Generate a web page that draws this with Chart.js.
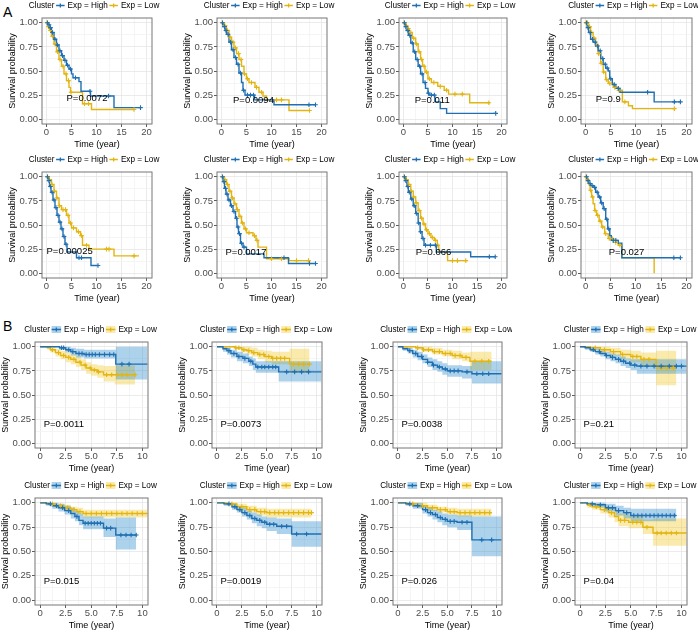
<!DOCTYPE html>
<html>
<head>
<meta charset="utf-8">
<script src="https://cdn.jsdelivr.net/npm/chart.js@4.4.1/dist/chart.umd.min.js"></script>
<style>
  html, body { margin: 0; padding: 0; background: #fff; }
  #fig { position: relative; width: 698px; height: 633px; overflow: hidden; font-family: "Liberation Sans", Arial, sans-serif; }
  #fig canvas { position: absolute; }
  .tag { position: absolute; left: 3px; font-size: 14px; line-height: 14px; color: #000; }
</style>
</head>
<body>
<div id="fig">
  <div class="tag" style="top:5px">A</div>
  <div class="tag" style="top:319px">B</div>
</div>
<script>
// ---- data ----
const groups = ["Exp = High", "Exp = Low"];
const yTicks = [0, 0.25, 0.5, 0.75, 1];
const yTickLabels = ["0.00", "0.25", "0.50", "0.75", "1.00"];
const xTicksA = [0, 5, 10, 15, 20];
const xTickLabelsA = ["0", "5", "10", "15", "20"];
const xTicksB = [0, 2.5, 5, 7.5, 10];
const xTickLabelsB = ["0", "2.5", "5.0", "7.5", "10"];
const pValuesA = ["P=0.0072", "P=0.0094", "P=0.011", "P=0.9", "P=0.00025", "P=0.0017", "P=0.066", "P=0.027"];
const pValuesB = ["P=0.0011", "P=0.0073", "P=0.0038", "P=0.21", "P=0.015", "P=0.0019", "P=0.026", "P=0.04"];

// panel A: [time, survival]; censor = times
const a1High = [[0,1],[0.3,0.98],[0.6,0.95],[1,0.9],[1.5,0.83],[2,0.77],[2.5,0.71],[3,0.66],[3.5,0.61],[4,0.56],[4.5,0.52],[5,0.47],[5.3,0.43],[6.5,0.39],[6.9,0.29],[8.8,0.24],[13.5,0.12],[18.8,0.12]];
const a1HighCens = [0.2,0.5,0.8,1.2,1.7,2.2,2.7,3.2,3.7,4.2,4.8,5.8,8.7,12.4,18.8];
const a1Low = [[0,1],[0.3,0.96],[0.6,0.92],[1,0.86],[1.5,0.78],[2,0.7],[2.5,0.62],[3,0.55],[3.5,0.47],[4,0.4],[4.5,0.33],[4.8,0.28],[7.2,0.16],[9,0.1],[17.5,0.1]];
const a1LowCens = [0.1,0.4,0.8,1.2,1.7,2.2,2.7,3.3,3.9,4.4,4.9,7.6,8.4,17.5];

const a2High = [[0,1],[0.3,0.96],[0.7,0.92],[1,0.88],[1.5,0.8],[2,0.72],[2.5,0.64],[3,0.57],[3.5,0.48],[4,0.38],[4.3,0.3],[4.7,0.25],[6.6,0.2],[10.5,0.15],[18.8,0.15]];
const a2HighCens = [0.2,0.6,0.9,1.3,1.8,2.3,2.8,3.3,3.8,4.4,5.2,5.8,6.4,17.5,18.8];
const a2Low = [[0,1],[0.5,0.97],[1,0.92],[1.5,0.85],[2,0.8],[2.5,0.74],[3,0.68],[3.5,0.62],[4,0.55],[4.5,0.47],[5,0.42],[5.5,0.38],[6.7,0.33],[7.5,0.28],[8.3,0.24],[9,0.2],[13.5,0.09],[17.6,0.09]];
const a2LowCens = [0.2,0.7,1.2,1.7,2.3,2.8,3.4,3.9,4.6,5.2,6,7,8,11,12,17.6];

const a3High = [[0,1],[0.3,0.96],[0.6,0.92],[1,0.87],[1.5,0.79],[2,0.7],[2.5,0.62],[3,0.55],[3.5,0.47],[4,0.38],[4.5,0.32],[5,0.27],[5.2,0.25],[6.4,0.18],[7.5,0.11],[8.8,0.06],[18.8,0.06]];
const a3HighCens = [0.2,0.5,0.9,1.3,1.8,2.3,2.8,3.3,3.8,4.4,5.1,5.7,6.3,18.8];
const a3Low = [[0,1],[0.4,0.97],[0.8,0.94],[1.2,0.9],[1.8,0.84],[2.5,0.78],[3,0.7],[3.5,0.62],[3.9,0.55],[4.4,0.49],[5,0.42],[5.7,0.38],[7,0.34],[8.3,0.3],[9.2,0.26],[13.5,0.17],[17.6,0.17]];
const a3LowCens = [0.2,0.6,1,1.5,2.1,2.7,3.2,3.7,4.2,4.7,5.3,6.2,7.5,8.8,10.5,12,17.4];

const a4High = [[0,1],[0.3,0.95],[0.6,0.9],[1,0.83],[1.5,0.8],[2,0.76],[2.5,0.71],[3,0.63],[3.5,0.57],[4,0.53],[4.5,0.5],[4.8,0.42],[5.3,0.36],[6,0.32],[6.8,0.28],[13.6,0.18],[18.8,0.18]];
const a4HighCens = [0.2,0.5,0.9,1.4,1.9,2.4,2.9,3.4,3.9,4.3,5,5.7,6.5,12.3,17.6,18.8];
const a4Low = [[0,1],[0.5,0.96],[1,0.9],[1.5,0.84],[2,0.77],[2.5,0.68],[3,0.58],[3.5,0.49],[4,0.41],[4.5,0.37],[5.5,0.33],[6.5,0.3],[7.3,0.18],[8.5,0.14],[9.3,0.11],[17.6,0.11]];
const a4LowCens = [0.1,0.4,0.8,1.2,1.7,2.2,2.6,3.1,3.6,4.2,4.8,5.8,6.6,7.8,17.6];

const a5High = [[0,1],[0.3,0.96],[0.6,0.9],[0.9,0.84],[1.3,0.76],[1.7,0.68],[2.1,0.6],[2.5,0.53],[2.9,0.46],[3.3,0.38],[3.7,0.3],[4.1,0.22],[6,0.16],[8.9,0.08],[10.3,0.08]];
const a5HighCens = [0.2,0.5,0.8,1.1,1.5,1.9,2.3,2.7,3.1,3.5,3.9,6.5,7,10.3];
const a5Low = [[0,1],[0.5,0.97],[1,0.92],[1.5,0.85],[2,0.78],[2.5,0.7],[3,0.66],[4,0.6],[4.5,0.52],[5,0.47],[6,0.43],[6.8,0.39],[7.2,0.29],[8.5,0.25],[13.5,0.18],[18.5,0.18]];
const a5LowCens = [0.2,0.6,1.1,1.6,2.1,2.6,3.3,3.8,4.3,4.8,5.4,6.4,7,8,12,12.5,17.5];

const a6High = [[0,1],[0.3,0.95],[0.6,0.88],[0.9,0.82],[1.3,0.76],[1.8,0.7],[2.3,0.64],[2.8,0.57],[3.1,0.48],[3.4,0.41],[3.8,0.31],[4.3,0.27],[5,0.2],[8.5,0.16],[13.4,0.1],[18.8,0.1]];
const a6HighCens = [0.2,0.5,0.8,1.1,1.5,2,2.5,3,3.3,3.6,4,4.5,12.5,17.6,18.8];
const a6Low = [[0,1],[0.5,0.97],[1,0.92],[1.5,0.85],[2,0.78],[2.5,0.72],[3,0.66],[3.5,0.59],[4,0.52],[4.5,0.46],[5,0.42],[6.3,0.39],[6.9,0.34],[7.3,0.27],[9,0.15],[13.5,0.13],[17.4,0.13]];
const a6LowCens = [0.2,0.7,1.2,1.7,2.2,2.7,3.2,3.7,4.2,4.8,5.5,6.6,7.1,10,12,15,17.4];

const a7High = [[0,1],[0.3,0.96],[0.7,0.9],[1,0.84],[1.5,0.77],[2,0.7],[2.5,0.62],[3,0.52],[3.4,0.43],[3.8,0.36],[4.2,0.29],[6.7,0.22],[13.7,0.17],[18.7,0.17]];
const a7HighCens = [0.2,0.5,0.9,1.2,1.7,2.2,2.7,3.1,3.5,4,4.5,5.5,6.5,17.5,18.7];
const a7Low = [[0,1],[0.5,0.97],[1,0.92],[1.5,0.85],[2,0.79],[2.5,0.73],[3,0.65],[3.5,0.57],[4,0.51],[4.5,0.45],[5,0.41],[5.6,0.37],[6.3,0.34],[6.9,0.29],[7.2,0.22],[9,0.13],[12.7,0.13]];
const a7LowCens = [0.2,0.6,1.1,1.6,2.1,2.6,3.2,3.7,4.2,4.7,5.3,5.9,6.5,7,10,11,12.7];

const a8High = [[0,1],[0.3,0.96],[0.6,0.93],[1,0.91],[1.5,0.89],[2,0.84],[2.5,0.79],[3,0.73],[3.5,0.67],[4,0.56],[4.4,0.46],[4.8,0.39],[5.1,0.34],[6.5,0.31],[7.2,0.16],[18.8,0.16]];
const a8HighCens = [0.2,0.5,0.9,1.3,1.8,2.3,2.8,3.2,3.7,4.2,4.6,5.5,6,17.5,18.8];
const a8Low = [[0,1],[0.3,0.97],[0.6,0.93],[0.9,0.86],[1.2,0.79],[1.5,0.72],[1.8,0.65],[2.2,0.6],[2.7,0.54],[3.2,0.48],[3.8,0.41],[4.5,0.36],[5.5,0.32],[6.5,0.29],[7.2,0.16],[13.6,0]];
const a8LowCens = [0.1,0.4,0.7,1,1.4,1.9,2.4,2.9,3.4,4,4.7,5.3,6,6.8];

// panel B: [time, survival, lower, upper]
const b1High = [[0,1,1,1],[1.9,0.99,0.97,1],[2.5,0.97,0.94,1],[3,0.95,0.91,0.99],[3.5,0.93,0.89,0.98],[4.3,0.92,0.88,0.97],[7.4,0.82,0.66,1],[10.5,0.82,0.66,1]];
const b1HighCens = [2.1,2.3,2.8,3.2,3.8,4.1,4.5,4.8,5.1,5.4,5.8,6.3,6.8,7.2,8,8.7];
const b1Low = [[0,1,1,1],[0.7,0.99,0.97,1],[1,0.97,0.94,1],[1.5,0.94,0.9,0.98],[2,0.91,0.87,0.96],[2.5,0.89,0.84,0.94],[3,0.87,0.82,0.92],[3.5,0.84,0.79,0.9],[4,0.81,0.76,0.87],[4.5,0.78,0.72,0.84],[5,0.76,0.7,0.82],[5.6,0.74,0.68,0.81],[6.2,0.71,0.64,0.8],[7.3,0.71,0.61,0.81],[9.3,0.71,0.61,0.81]];
const b1LowCens = [1.2,1.8,2.3,2.8,3.3,3.9,4.4,4.9,5.3,5.7,6.5,7,7.5,8,8.5,9.3];

const b2High = [[0,1,1,1],[0.6,0.98,0.95,1],[1,0.96,0.92,0.99],[1.4,0.93,0.89,0.97],[2,0.9,0.85,0.95],[2.6,0.88,0.83,0.93],[3.2,0.85,0.8,0.9],[3.6,0.82,0.76,0.88],[3.9,0.79,0.73,0.85],[6.2,0.74,0.64,0.85],[10.5,0.74,0.64,0.85]];
const b2HighCens = [1.2,1.7,2.2,2.8,3.4,4.1,4.5,4.8,5.2,5.6,5.9,7,7.8,8.5,9.2];
const b2Low = [[0,1,1,1],[1.8,0.99,0.97,1],[2.5,0.97,0.94,1],[3,0.96,0.92,1],[3.5,0.94,0.9,0.99],[4.1,0.92,0.87,0.97],[4.8,0.9,0.84,0.96],[5.5,0.88,0.82,0.95],[7.3,0.82,0.73,0.98],[9.3,0.82,0.73,0.98]];
const b2LowCens = [1.9,2.2,2.7,3.2,3.7,4.3,4.7,5.2,5.6,6,6.4,6.8,7.7,8.2,8.7,9.3];

const b3High = [[0,1,1,1],[0.5,0.98,0.96,1],[1,0.96,0.93,0.99],[1.5,0.93,0.89,0.97],[2,0.9,0.86,0.95],[2.5,0.87,0.83,0.92],[3,0.84,0.79,0.89],[3.5,0.81,0.76,0.87],[4,0.79,0.74,0.85],[4.5,0.77,0.71,0.83],[5,0.75,0.69,0.81],[6.5,0.74,0.67,0.8],[7.5,0.72,0.62,0.85],[10.5,0.72,0.62,0.85]];
const b3HighCens = [1.2,1.8,2.4,3,3.6,4.2,4.8,5.3,5.7,6.1,7,8,8.6,9.2];
const b3Low = [[0,1,1,1],[1.8,0.99,0.97,1],[2.5,0.97,0.95,1],[3.5,0.95,0.92,0.99],[4.5,0.93,0.9,0.97],[5.5,0.91,0.87,0.96],[6.5,0.89,0.85,0.94],[7.3,0.85,0.76,0.95],[9.5,0.85,0.76,0.95]];
const b3LowCens = [2,2.6,3.1,3.7,4.2,4.8,5.3,5.8,6.3,6.9,7.8,8.5,9.2];

const b4High = [[0,1,1,1],[0.5,0.99,0.97,1],[1,0.97,0.95,1],[1.5,0.95,0.92,0.98],[2,0.93,0.9,0.96],[2.5,0.91,0.87,0.95],[3,0.89,0.85,0.93],[3.5,0.87,0.83,0.92],[4,0.85,0.8,0.9],[4.5,0.83,0.78,0.88],[5,0.81,0.76,0.87],[5.6,0.8,0.72,0.87],[10.5,0.8,0.72,0.87]];
const b4HighCens = [1.3,1.9,2.6,3.2,3.8,4.3,4.9,5.4,6,6.6,7.3,8,8.8,9.5,10];
const b4Low = [[0,1,1,1],[1,0.99,0.97,1],[2,0.97,0.94,1],[3,0.95,0.91,0.99],[4,0.92,0.87,0.97],[5,0.9,0.84,0.96],[6,0.87,0.8,0.94],[7.5,0.78,0.6,0.96],[9.5,0.78,0.6,0.96]];
const b4LowCens = [1.5,2.4,3.3,4.2,5.2,5.6,6.3,6.8,8,8.6,9.2];

const b5High = [[0,1,1,1],[0.6,0.99,0.97,1],[1.2,0.97,0.94,1],[1.8,0.95,0.91,0.99],[2.4,0.92,0.88,0.97],[3,0.89,0.84,0.95],[3.4,0.86,0.81,0.92],[3.8,0.82,0.77,0.89],[4.2,0.79,0.73,0.86],[6.2,0.74,0.65,0.84],[7.4,0.67,0.52,0.85],[9.4,0.67,0.52,0.85]];
const b5HighCens = [1,1.6,2.2,2.8,3.6,4.4,4.7,5,5.3,5.6,5.9,6.5,6.9,7.9,8.4,8.9,9.4];
const b5Low = [[0,1,1,1],[0.8,0.99,0.98,1],[1.5,0.97,0.95,0.99],[2.3,0.95,0.93,0.98],[3,0.93,0.9,0.96],[3.6,0.91,0.88,0.95],[4.2,0.89,0.85,0.93],[10.5,0.89,0.84,0.94]];
const b5LowCens = [1.2,2,2.7,3.3,3.9,4.5,5,5.5,6,6.5,7,7.5,8,8.5,9,9.5,10];

const b6High = [[0,1,1,1],[0.7,0.99,0.97,1],[1.5,0.96,0.93,0.99],[2,0.93,0.9,0.97],[2.5,0.9,0.86,0.95],[3,0.87,0.83,0.92],[3.5,0.84,0.79,0.9],[4,0.82,0.76,0.88],[4.5,0.8,0.74,0.86],[5,0.78,0.71,0.85],[6,0.76,0.68,0.84],[7.5,0.68,0.55,0.81],[10.5,0.68,0.55,0.81]];
const b6HighCens = [1.2,1.8,2.3,2.8,3.3,3.8,4.3,4.8,5.3,5.7,6.5,7,8,9];
const b6Low = [[0,1,1,1],[1,0.99,0.97,1],[2,0.96,0.93,0.99],[3,0.93,0.9,0.97],[4,0.91,0.87,0.95],[5,0.9,0.85,0.94],[9.5,0.9,0.85,0.94]];
const b6LowCens = [1.5,2.5,3.3,3.8,4.4,4.8,5.3,5.8,6.2,6.7,7.2,7.7,8.2,8.7,9.2,9.5];

const b7High = [[0,1,1,1],[0.8,0.99,0.97,1],[1.5,0.97,0.94,1],[2.5,0.93,0.89,0.97],[3,0.9,0.86,0.95],[3.5,0.88,0.83,0.93],[4,0.85,0.8,0.91],[4.5,0.83,0.77,0.89],[5,0.81,0.75,0.88],[6,0.8,0.72,0.87],[7.5,0.62,0.45,0.86],[10.5,0.62,0.45,0.86]];
const b7HighCens = [1.2,2,2.8,3.3,3.8,4.3,4.8,5.3,5.7,6.5,7,8.5,9.5];
const b7Low = [[0,1,1,1],[1,0.99,0.97,1],[2,0.97,0.95,1],[3,0.95,0.92,0.98],[4,0.93,0.9,0.96],[5,0.91,0.88,0.95],[6,0.9,0.86,0.94],[9.5,0.9,0.86,0.94]];
const b7LowCens = [1.5,2.5,3.5,4.3,4.8,5.3,5.7,6.3,6.8,7.3,7.8,8.3,8.8,9.3];

const b8High = [[0,1,1,1],[0.7,0.99,0.97,1],[1.5,0.98,0.95,1],[2.5,0.95,0.91,0.99],[3.5,0.92,0.87,0.97],[4.3,0.9,0.84,0.95],[5,0.87,0.81,0.94],[9.5,0.87,0.81,0.94]];
const b8HighCens = [1.2,2,2.8,3.2,3.8,4.6,5.3,5.7,6.1,6.5,6.9,7.3,7.7,8.1,8.5,8.9,9.3];
const b8Low = [[0,1,1,1],[0.7,0.98,0.95,1],[1.2,0.96,0.93,0.99],[2,0.93,0.89,0.97],[2.8,0.9,0.85,0.95],[3.4,0.86,0.8,0.92],[3.8,0.82,0.76,0.89],[4.8,0.8,0.74,0.87],[6.2,0.75,0.68,0.83],[7.2,0.69,0.56,0.84],[10.5,0.69,0.56,0.84]];
const b8LowCens = [1,1.6,2.4,3.1,4,4.4,5.2,5.6,6,6.6,7.6,8,8.5,9,9.5];

// ---- layout / style ----
const FONT = '"Liberation Sans", Arial, sans-serif';
Chart.defaults.font.family = FONT;
const lineColors = ["#1f6fb2", "#e3b511"];
const bandColors = ["rgba(0,115,194,0.32)", "rgba(239,192,0,0.32)"];
const yMinor = [0.125, 0.375, 0.625, 0.875];
const xMinorA = [2.5, 7.5, 12.5, 17.5];
const xMinorB = [1.25, 3.75, 6.25, 8.75];
const AX_W = 38, TOP_PAD = 20, AX_H = 30, RIGHT_PAD = 10;

const boxLeftA = [42, 217, 399, 581], boxRightA = [152, 327, 507, 692];
const boxLeftB = [35, 212, 393, 575], boxRightB = [148, 322, 502, 687];
const rowTopA = [18, 172], rowBottomA = [124, 278];
const rowTopB = [342, 498], rowBottomB = [448, 605];
const pAtA = [[4, 0.22], [2.3, 0.19], [2.3, 0.19], [2, 0.21], [0, 0.23], [0.8, 0.22], [2.5, 0.22], [4.6, 0.22]];
const pAtB = [0.35, 0.19];

const aSeries = [
  [a1High, a1Low, a1HighCens, a1LowCens], [a2High, a2Low, a2HighCens, a2LowCens],
  [a3High, a3Low, a3HighCens, a3LowCens], [a4High, a4Low, a4HighCens, a4LowCens],
  [a5High, a5Low, a5HighCens, a5LowCens], [a6High, a6Low, a6HighCens, a6LowCens],
  [a7High, a7Low, a7HighCens, a7LowCens], [a8High, a8Low, a8HighCens, a8LowCens]
];
const bSeries = [
  [b1High, b1Low, b1HighCens, b1LowCens], [b2High, b2Low, b2HighCens, b2LowCens],
  [b3High, b3Low, b3HighCens, b3LowCens], [b4High, b4Low, b4HighCens, b4LowCens],
  [b5High, b5Low, b5HighCens, b5LowCens], [b6High, b6Low, b6HighCens, b6LowCens],
  [b7High, b7Low, b7HighCens, b7LowCens], [b8High, b8Low, b8HighCens, b8LowCens]
];

function survAt(rows, t) {
  let s = rows[0][1];
  rows.forEach(r => { if (r[0] <= t) s = r[1]; });
  return s;
}
const col = (rows, k) => rows.map(r => ({ x: r[0], y: r[k] }));

function setTicks(majors, minors) {
  return s => {
    s.ticks = majors.concat(minors).sort((a, b) => a - b).map(v => ({ value: v, sub: minors.includes(v) }));
  };
}
function tickLabel(majors, labels) {
  return v => { const k = majors.indexOf(v); return k >= 0 ? labels[k] : ""; };
}
const gridColor = c => (c.tick && c.tick.sub ? "#f3f3f3" : "#e6e6e6");
const tickColor = c => (c.tick && c.tick.sub ? "rgba(0,0,0,0)" : "#333");

const kmPanel = {
  id: "kmPanel",
  afterDatasetsDraw(chart, args, opts) {
    const { ctx, chartArea: a, scales } = chart;
    ctx.save();
    ctx.strokeStyle = "#777";
    ctx.lineWidth = 1;
    ctx.strokeRect(a.left, a.top, a.right - a.left, a.bottom - a.top);
    ctx.fillStyle = "#000";
    ctx.font = "9.5px " + FONT;
    ctx.textBaseline = "middle";
    ctx.fillText(opts.pText, scales.x.getPixelForValue(opts.pAt[0]), scales.y.getPixelForValue(opts.pAt[1]));
    ctx.restore();
  },
  afterDraw(chart, args, opts) {
    const { ctx, chartArea: a } = chart;
    ctx.save();
    ctx.font = "8.2px " + FONT;
    ctx.textBaseline = "middle";
    const items = ["Cluster"].concat(groups);
    const w = items.map(t => ctx.measureText(t).width);
    const key = opts.band ? 9.5 : 8.5, gapL = 1.5, gapR = 3;
    const total = w[0] + w[1] + w[2] + 2 * (gapL + key + gapR);
    let x = (a.left + a.right) / 2 - opts.shift - total / 2;
    const y = a.top - 12.5;
    ctx.fillStyle = "#000";
    ctx.fillText(items[0], x, y);
    x += w[0];
    [0, 1].forEach(i => {
      x += gapL;
      if (opts.band) {
        ctx.fillStyle = bandColors[i];
        ctx.fillRect(x, y - 3.5, key, 7);
      }
      ctx.strokeStyle = lineColors[i];
      ctx.lineWidth = 1.3;
      ctx.beginPath();
      ctx.moveTo(x, y); ctx.lineTo(x + key, y);
      ctx.moveTo(x + key / 2, y - 2); ctx.lineTo(x + key / 2, y + 2);
      ctx.stroke();
      x += key + gapR;
      ctx.fillStyle = "#000";
      ctx.fillText(items[i + 1], x, y);
      x += w[i + 1];
    });
    ctx.restore();
  }
};

function makeDatasets(s, band) {
  const [high, low, highCens, lowCens] = s;
  const ds = [high, low].map((rows, i) => ({
    label: groups[i], data: col(rows, 1), borderColor: lineColors[i], borderWidth: 1.4,
    stepped: true, pointRadius: 0, fill: false, order: i + 1
  }));
  [highCens, lowCens].forEach((times, i) => {
    const rows = i === 0 ? high : low;
    ds.push({
      data: times.map(t => ({ x: t, y: survAt(rows, t) })), showLine: false,
      pointStyle: "cross", pointRadius: 2.3, pointBorderWidth: 1.1, pointBorderColor: lineColors[i], order: 0
    });
  });
  if (band) {
    [high, low].forEach((rows, i) => {
      ds.push({ data: col(rows, 3), stepped: true, pointRadius: 0, borderWidth: 0, borderColor: "rgba(0,0,0,0)", fill: false, order: 5 + i });
      ds.push({ data: col(rows, 2), stepped: true, pointRadius: 0, borderWidth: 0, borderColor: "rgba(0,0,0,0)", fill: "-1", backgroundColor: bandColors[i], order: 5 + i });
    });
  }
  return ds;
}

function makeChart(box, s, band, pText, pAt) {
  const fig = document.getElementById("fig");
  const w = AX_W + (box.right - box.left) + RIGHT_PAD;
  const h = TOP_PAD + (box.bottom - box.top) + AX_H;
  const cv = document.createElement("canvas");
  cv.width = w; cv.height = h;
  cv.style.left = (box.left - AX_W) + "px";
  cv.style.top = (box.top - TOP_PAD) + "px";
  cv.style.width = w + "px"; cv.style.height = h + "px";
  fig.appendChild(cv);

  const xMaj = band ? xTicksB : xTicksA;
  const xLab = band ? xTickLabelsB : xTickLabelsA;
  const xMin = band ? xMinorB : xMinorA;

  new Chart(cv, {
    type: "line",
    data: { datasets: makeDatasets(s, band) },
    options: {
      responsive: false,
      animation: false,
      layout: { padding: { top: TOP_PAD, right: RIGHT_PAD, left: 0, bottom: 0 } },
      plugins: {
        legend: { display: false },
        tooltip: { enabled: false },
        kmPanel: { pText: pText, pAt: pAt, band: band, shift: band ? 1 : 3 }
      },
      scales: {
        x: {
          type: "linear",
          min: band ? -0.5 : -0.9,
          max: band ? 10.55 : 21.1,
          afterBuildTicks: setTicks(xMaj, xMin),
          afterFit: sc => { sc.height = AX_H; },
          border: { display: false },
          grid: { color: gridColor, tickColor: tickColor, tickLength: 3, lineWidth: 0.8 },
          ticks: { autoSkip: false, maxRotation: 0, padding: 0, color: "#4d4d4d", font: { size: 9.5 }, callback: tickLabel(xMaj, xLab) },
          title: { display: true, text: "Time (year)", color: "#000", font: { size: 9 }, padding: { top: 0, bottom: 3.6 } }
        },
        y: {
          min: -0.05,
          max: 1.05,
          afterBuildTicks: setTicks(yTicks, yMinor),
          afterFit: sc => { sc.width = AX_W; },
          border: { display: false },
          grid: { color: gridColor, tickColor: tickColor, tickLength: 3, lineWidth: 0.8 },
          ticks: { autoSkip: false, padding: 1, color: "#4d4d4d", font: { size: 9.5 }, callback: tickLabel(yTicks, yTickLabels) },
          title: { display: true, text: "Survival probability", color: "#000", font: { size: 9 }, padding: { top: 3.5, bottom: 0 } }
        }
      }
    },
    plugins: [kmPanel]
  });
}

aSeries.forEach((s, i) => {
  const r = Math.floor(i / 4), c = i % 4;
  makeChart({ left: boxLeftA[c], right: boxRightA[c], top: rowTopA[r], bottom: rowBottomA[r] }, s, false, pValuesA[i], pAtA[i]);
});
bSeries.forEach((s, i) => {
  const r = Math.floor(i / 4), c = i % 4;
  makeChart({ left: boxLeftB[c], right: boxRightB[c], top: rowTopB[r], bottom: rowBottomB[r] }, s, true, pValuesB[i], pAtB);
});
</script>
</body>
</html>
